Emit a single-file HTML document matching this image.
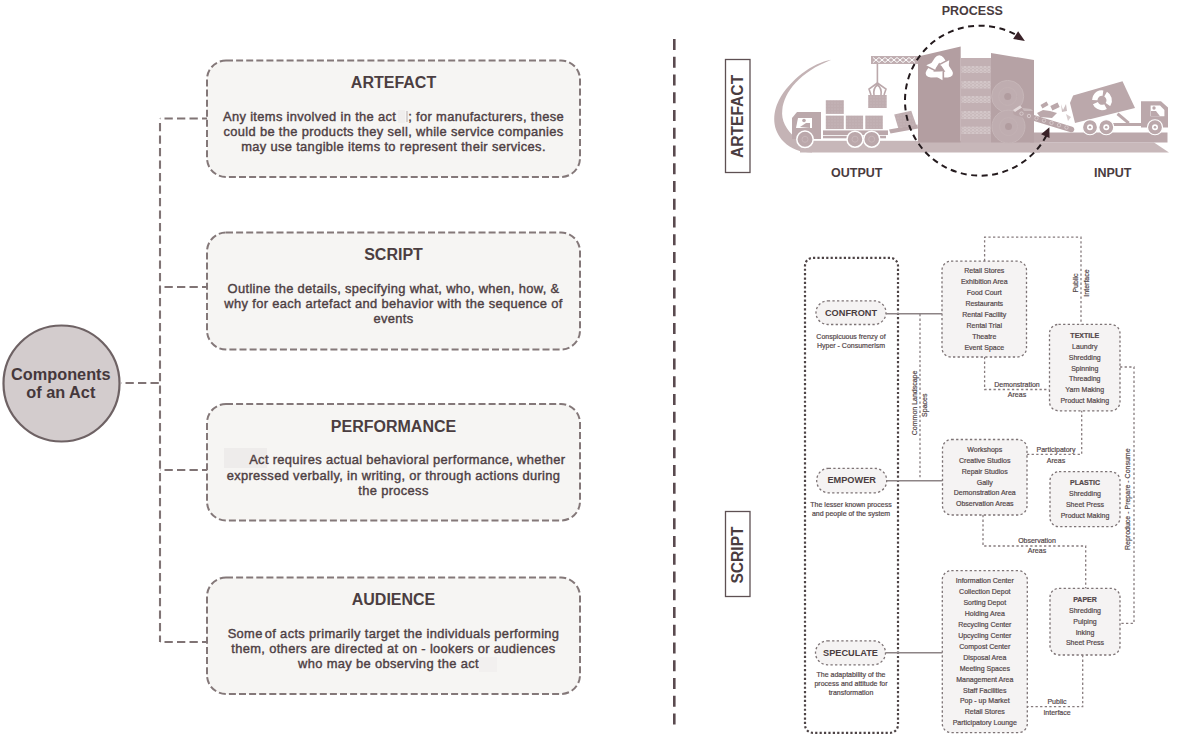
<!DOCTYPE html>
<html><head><meta charset="utf-8">
<style>
html,body{margin:0;padding:0;background:#fff;}
body{width:1200px;height:741px;position:relative;overflow:hidden;font-family:"Liberation Sans",sans-serif;color:#4a3d40;}
svg.layer{position:absolute;left:0;top:0;}
.ttl{position:absolute;left:207px;width:373px;text-align:center;font-weight:bold;font-size:16px;line-height:18px;color:#4b3e41;}
.body{position:absolute;left:207px;width:373px;text-align:center;font-size:12.9px;letter-spacing:0.34px;line-height:15.4px;color:#4e4043;-webkit-text-stroke:0.4px #4e4043;}
.circ{position:absolute;left:-0.7px;width:123px;text-align:center;font-weight:bold;font-size:16.3px;line-height:18.2px;color:#45383b;}
.lbl{position:absolute;font-weight:bold;font-size:12.5px;line-height:14px;color:#4a3c3f;white-space:nowrap;}
.vlab{position:absolute;font-weight:bold;font-size:15.6px;line-height:16px;color:#4a3c3f;white-space:nowrap;transform:rotate(-90deg);transform-origin:center center;}
.list{position:absolute;text-align:center;font-size:7px;line-height:10.92px;color:#54474a;white-space:nowrap;-webkit-text-stroke:0.2px #54474a;}
.pill{position:absolute;text-align:center;font-weight:bold;font-size:9.2px;line-height:11px;color:#4a3d40;white-space:nowrap;}
.desc{position:absolute;text-align:center;font-size:7px;line-height:8.8px;color:#54474a;white-space:nowrap;-webkit-text-stroke:0.2px #54474a;}
.rot{position:absolute;text-align:center;font-size:7px;line-height:10px;color:#54474a;white-space:nowrap;-webkit-text-stroke:0.2px #54474a;transform:rotate(-90deg);transform-origin:center center;}
</style></head>
<body>
<svg class="layer" width="1200" height="741" viewBox="0 0 1200 741">
  <!-- LEFT -->
  <g fill="#f6f5f3" stroke="#847879" stroke-width="2" stroke-dasharray="7 3.1">
    <rect x="207" y="60.5" width="373" height="116.5" rx="19"/>
    <rect x="207" y="232.5" width="373" height="117" rx="19"/>
    <rect x="207" y="404" width="373" height="116.5" rx="19"/>
    <rect x="207" y="577.5" width="373" height="116.5" rx="19"/>
  </g>
  <g fill="none" stroke="#807475" stroke-width="2.1" stroke-dasharray="8.3 4.2" stroke-dashoffset="-4.5">
    <path d="M160 118.5 V642"/>
    <path d="M160 118.5 H207 M160 287 H207 M160 470 H207 M160 642 H207 M121 383 H160"/>
  </g>
  <circle cx="61.5" cy="383.5" r="58" fill="#d3cccd" stroke="#6e6264" stroke-width="2.2"/>

  <!-- divider -->
  <path d="M674.3 39 V725" stroke="#5a4a4f" stroke-width="2.6" stroke-dasharray="11 6.75" fill="none"/>
  <!-- vertical label boxes -->
  <rect x="725.5" y="59.5" width="24.5" height="113" fill="none" stroke="#5e5053" stroke-width="1.3"/>
  <rect x="725.5" y="511.5" width="24.5" height="85" fill="none" stroke="#5e5053" stroke-width="1.3"/>

  <!-- ARTEFACT ILLUSTRATION -->
  <g id="illu">
    <!-- swoosh -->
    <path d="M831.4 59.8 C812 63 790 80 779 100 C772 114 772 130 784 142 C791 149 800 152.4 812 152.4 L812 140.5 L796 138 C786 130 781 120 782.3 110 C784 92 800 72 831.4 59.8 Z" fill="#c4b3b5"/>
    <!-- platform left part -->
    <rect x="800" y="140.8" width="240" height="11.7" fill="#c7b7b9"/>
    <!-- lower band right -->
    <path d="M1030 142.5 H1154 L1169 152.5 H1030 Z" fill="#c8b8ba"/>
    <!-- upper road right -->
    <rect x="1030" y="132.5" width="137.5" height="10" fill="#bba8ab"/>
    <!-- flatbed truck -->
    <path d="M792 118 L797 112 H821 V139 H792 Z" fill="#bba8ab"/>
    <path d="M798 118 H812 V128 H796 Z" fill="#fff"/>
    <circle cx="804" cy="120.5" r="1.8" fill="#bba8ab"/>
    <path d="M800 127 L806 123 H810 V128 Z" fill="#bba8ab"/>
    <rect x="823" y="130.4" width="65" height="4.6" fill="#bba8ab"/>
    <rect x="823" y="135.8" width="63" height="2.5" fill="#bba8ab"/>
    <g fill="#bba8ab" stroke="#fff" stroke-width="1.5">
      <circle cx="805" cy="139.3" r="8.2"/>
      <circle cx="855" cy="139.2" r="8"/>
      <circle cx="871.7" cy="139.2" r="8"/>
    </g>
    <g fill="none" stroke="#c9b9bb" stroke-width="0.8"><circle cx="805" cy="139.3" r="3"/><circle cx="855" cy="139.2" r="3"/><circle cx="871.7" cy="139.2" r="3"/></g>
    <g fill="url(#tex)">
      <rect x="825.8" y="100.2" width="18" height="13.7"/>
      <rect x="825.8" y="115.6" width="18" height="13.5"/>
      <rect x="845.8" y="115.6" width="17.3" height="13.5"/>
      <rect x="865.3" y="115.6" width="17.5" height="13.5"/>
      <rect x="868.2" y="95" width="18.5" height="13"/>
    </g>
    <!-- crane -->
    <rect x="871" y="56" width="47" height="8" fill="#c0aeb1"/>
    <path d="M873 57.5 L879 62.5 L885 57.5 L891 62.5 L897 57.5 L903 62.5 L909 57.5 L915 62.5 M873 62.5 L879 57.5 L885 62.5 L891 57.5 L897 62.5 L903 57.5 L909 62.5 L915 57.5" stroke="#fff" stroke-width="1" fill="none"/>
    <rect x="876.6" y="64" width="1.6" height="20" fill="#bba8ab"/>
    <path d="M877.4 83 L869 89 L871 95 M877.4 83 L886 89 L884 95 M874 95 Q873 88 877.4 85 Q882 88 881 95" stroke="#bba8ab" stroke-width="1.6" fill="none"/>
    <!-- tilted box + arm -->
    <path d="M894.2 114.6 L911.25 110.8 L916.25 125 L898.3 128.3 Z" fill="url(#tex)"/>
    <path d="M889 129.5 L917.5 124.5 L918 128.5 L890.5 133.5 Z" fill="#bba8ab"/>
    <!-- building -->
    <path d="M918 56.5 L960.7 46.5 V142.5 H918 Z" fill="#b39ea1"/>
    <rect x="960.7" y="58" width="30.3" height="84.5" fill="#c2b0b3"/>
    <defs>
      <pattern id="spk" width="4" height="3" patternUnits="userSpaceOnUse">
        <rect width="4" height="3" fill="#c9babc"/>
        <circle cx="1" cy="1" r="0.7" fill="#e6dcdd"/>
        <circle cx="3" cy="2.2" r="0.6" fill="#ddd2d3"/>
      </pattern>
      <pattern id="tex" width="3" height="3" patternUnits="userSpaceOnUse">
        <rect width="3" height="3" fill="#bfadb0"/>
        <circle cx="1" cy="1" r="0.5" fill="#cfc1c3"/>
      </pattern>
    </defs>
    <g fill="url(#spk)">
      <rect x="961.5" y="66" width="29" height="7"/>
      <rect x="961.5" y="81" width="29" height="7.5"/>
      <rect x="961.5" y="96" width="29" height="7"/>
      <rect x="961.5" y="111" width="29" height="8"/>
      <rect x="961.5" y="126.6" width="29" height="7.4"/>
    </g>
    <path d="M991 53 L1034 60 V142.5 H991 Z" fill="#b6a2a5"/>
    <g fill="#bfadb0" stroke="#c6b6b8" stroke-width="1">
      <circle cx="1007.7" cy="96.4" r="16"/>
      <circle cx="1008.5" cy="126.6" r="16.5"/>
    </g>
    <g fill="none" stroke="#c4b4b6" stroke-width="0.6"><circle cx="1007.7" cy="96.4" r="9"/><circle cx="1008.5" cy="126.6" r="9"/></g>
    <g fill="#b19c9f"><circle cx="1007.7" cy="96.4" r="3.5"/><circle cx="1008.5" cy="126.6" r="3.5"/></g>
    <!-- recycle symbol on building -->
    <defs><g id="rcp">
      <path d="M-5.2 -1.2 L-1.2 -8.2 Q0 -10.2 1.2 -8.2 L2.6 -5.8" fill="none" stroke="#fff" stroke-width="5" stroke-linejoin="round"/>
      <path d="M0.6 -3.2 L7.6 -7.2 L7.0 1.0 Z" fill="#fff"/>
    </g></defs>
    <g transform="translate(939.3 68.6) scale(1.3 1.15)"><use href="#rcp"/><use href="#rcp" transform="rotate(120)"/><use href="#rcp" transform="rotate(240)"/></g>
    <!-- conveyor into building -->
    <path d="M1016 112.5 L1071.5 129.5" stroke="#b8a4a7" stroke-width="5.5" stroke-linecap="round"/>
    <g fill="none" stroke="#dcd1d2" stroke-width="0.8">
      <circle cx="1021.5" cy="113.6" r="1.7"/><circle cx="1029" cy="116" r="1.7"/><circle cx="1036.5" cy="118.3" r="1.7"/><circle cx="1044" cy="120.6" r="1.7"/><circle cx="1051.5" cy="122.9" r="1.7"/><circle cx="1059" cy="125.2" r="1.7"/><circle cx="1066.5" cy="127.5" r="1.7"/>
    </g>
    <path d="M1013 110 L1020 105.5 L1022 107.5 L1015 112 Z" fill="#e4dadb"/>
    <path d="M1022 108 L1031 109 L1033 111 L1024 111 Z" fill="#c9babc"/>
    <g fill="#bba8ab">
      <rect x="1041" y="103" width="7" height="4" transform="rotate(-30 1044.5 105)"/>
      <rect x="1051" y="104" width="8" height="5" transform="rotate(-25 1055 106.5)"/>
      <path d="M1037 113 L1043 110 L1050 111 L1057 113 L1052 118 L1040 117 Z"/>
      <path d="M1061 104 L1063 110 L1066 104 L1067 111 L1062 112 Z" fill="#cdbfc1"/>
      <path d="M1066 114 L1071 117 L1068 121 Z" fill="#d8cdce"/>
    </g>
    <!-- dump truck -->
    <path d="M1070 103.1 L1073.1 95.6 L1122.5 81.25 L1135 108.1 L1075 123.1 Z" fill="#bba8ab"/>
    <path d="M1117.5 113.75 L1128.75 123.1" stroke="#bba8ab" stroke-width="3"/>
    <rect x="1112" y="123" width="29" height="3" fill="#bba8ab"/>
    <path d="M1141 101.25 H1161 L1168 107.5 V127.5 H1141 Z" fill="#bba8ab"/>
    <path d="M1150.6 105.6 H1160 L1164.4 110 V116.25 H1150.6 Z" fill="#fff"/>
    <circle cx="1154" cy="108" r="1.7" fill="#bba8ab"/>
    <path d="M1151 116.25 V111 H1156 L1160 116.25 Z" fill="#bba8ab"/>
    <g fill="#bba8ab" stroke="#fff" stroke-width="1.2">
      <circle cx="1090" cy="127.25" r="7.5"/><circle cx="1106.25" cy="127.25" r="7.5"/><circle cx="1155" cy="127.25" r="7.5"/>
    </g>
    <g fill="#fff"><circle cx="1090" cy="127.25" r="3"/><circle cx="1106.25" cy="127.25" r="3"/><circle cx="1155" cy="127.25" r="3"/></g>
    <g fill="#bba8ab"><circle cx="1090" cy="127.25" r="1.3"/><circle cx="1106.25" cy="127.25" r="1.3"/><circle cx="1155" cy="127.25" r="1.3"/></g>
    <circle cx="1102" cy="100.3" r="7.2" fill="none" stroke="#fff" stroke-width="5.4" stroke-dasharray="12 3.08" transform="rotate(-60 1102 100.3)"/>
    <!-- process dashed circle -->
    <path d="M1046.3 135.7 A75 75 0 1 1 1016.8 35.3" fill="none" stroke="#241a1d" stroke-width="2" stroke-dasharray="6 4.5"/>
    <path d="M1024.9 41.1 L1013.1 39.0 L1018.1 31.3 Z" fill="#3a2228"/>
    <path d="M1049.4 127.3 L1049.5 138.1 L1041.1 134.2 Z" fill="#3a2228"/>
  </g>

  <!-- SCRIPT DIAGRAM -->
  <rect x="805" y="257.8" width="93" height="475" rx="8" fill="none" stroke="#4d4345" stroke-width="2.2" stroke-dasharray="2.2 2.2"/>
  <g fill="#f5f3f3" stroke="#7d7375" stroke-width="1.3" stroke-dasharray="2.3 2.3">
    <rect x="816" y="300.8" width="70" height="23.7" rx="11.8"/>
    <rect x="816.7" y="468.3" width="70" height="24.5" rx="12"/>
    <rect x="815.5" y="640.8" width="70" height="24" rx="12"/>
    <rect x="942" y="261.2" width="84.5" height="95.8" rx="9"/>
    <rect x="942.5" y="439.5" width="84.5" height="75.5" rx="9"/>
    <rect x="942.3" y="570.7" width="85" height="162" rx="9"/>
    <rect x="1049.5" y="324.4" width="70.5" height="86.4" rx="9"/>
    <rect x="1050" y="471.7" width="70" height="55" rx="9"/>
    <rect x="1050" y="588.3" width="70" height="66.7" rx="9"/>
  </g>
  <g fill="none" stroke="#8d8486" stroke-width="1.5">
    <path d="M886 313.8 H942 M886.7 480.8 H942.5 M885.5 652.8 H942.3"/>
  </g>
  <g fill="none" stroke="#867b7d" stroke-width="1.3" stroke-dasharray="2.3 2.3">
    <path d="M920 314 V478"/>
    <path d="M984.6 261 V237.2 H1081 V324.4"/>
    <path d="M984.6 357 V389.5 H1049.5"/>
    <path d="M1027 454.3 H1081.7 V410.8"/>
    <path d="M983 515 V546 H1085.7 V588.3"/>
    <path d="M1120 367 H1134 V623.3 H1120"/>
    <path d="M1082.7 655 V706.7 H1027.3"/>
  </g>
</svg>
<div class="circ" style="top:364.5px">Components<br>of an Act</div>
<div class="ttl" style="top:74px">ARTEFACT</div>
<div class="body" style="top:108.6px">Any items involved in the act<span style="display:inline-block;width:7px;height:13px;background:#f0eeed;margin-left:2px;vertical-align:-2px"></span><span style="display:inline-block;width:2px;height:11px;background:#d6d1d1;vertical-align:-1px;margin-left:1px"></span>; for manufacturers, these<br>could be the products they sell, while service companies<br>may use tangible items to represent their services.</div>
<div class="ttl" style="top:246px">SCRIPT</div>
<div class="body" style="top:280.6px">Outline the details, specifying what, who, when, how, &amp;<br>why for each artefact and behavior with the sequence of<br>events</div>
<div style="position:absolute;left:224px;top:448px;width:43px;height:20px;background:#eeeceb"></div>
<div class="ttl" style="top:417.5px">PERFORMANCE</div>
<div class="body" style="top:452.1px">&nbsp; &nbsp; &nbsp; &nbsp;Act requires actual behavioral performance, whether<br>expressed verbally, in writing, or through actions during<br>the process</div>
<div class="ttl" style="top:591px">AUDIENCE</div>
<div class="body" style="top:625.6px">Some<span style="letter-spacing:-1.5px"> </span>of acts primarily target the individuals performing<br>them, others are directed at on - lookers or audiences<br>who may be observing the act<span style="display:inline-block;width:10px;height:1px"></span></div>
<div style="position:absolute;left:479px;top:657px;width:18px;height:15px;background:#f2f0ef"></div>

<div class="lbl" style="left:941.7px;top:4px">PROCESS</div>
<div class="lbl" style="left:831px;top:166px">OUTPUT</div>
<div class="lbl" style="left:1094px;top:166px">INPUT</div>
<div class="vlab" style="left:697.7px;top:109.5px;width:80px;text-align:center">ARTEFACT</div>
<div class="vlab" style="left:697.7px;top:546.5px;width:80px;text-align:center">SCRIPT</div>

<div class="pill" style="left:816px;top:307.8px;width:70px">CONFRONT</div>
<div class="pill" style="left:816.7px;top:475.3px;width:70px">EMPOWER</div>
<div class="pill" style="left:815.5px;top:647.6px;width:70px">SPECULATE</div>
<div class="desc" style="left:801px;top:333px;width:100px">Conspicuous frenzy of<br>Hyper - Consumerism</div>
<div class="desc" style="left:801px;top:501px;width:100px">The lesser known process<br>and people of the system</div>
<div class="desc" style="left:801px;top:671px;width:100px">The adaptability of the<br>process and attitude for<br>transformation</div>

<div class="list" style="left:942px;top:266.3px;width:84.5px">Retail Stores<br>Exhibition Area<br>Food Court<br>Restaurants<br>Rental Facility<br>Rental Trial<br>Theatre<br>Event Space</div>
<div class="list" style="left:942.5px;top:444.8px;width:84.5px">Workshops<br>Creative Studios<br>Repair Studios<br>Gally<br>Demonstration Area<br>Observation Areas</div>
<div class="list" style="left:942.3px;top:576.3px;width:85px">Information Center<br>Collection Depot<br>Sorting Depot<br>Holding Area<br>Recycling Center<br>Upcycling Center<br>Compost Center<br>Disposal Area<br>Meeting Spaces<br>Management Area<br>Staff Facilities<br>Pop - up Market<br>Retail Stores<br>Participatory Lounge</div>
<div class="list" style="left:1049.5px;top:330.8px;width:70.5px"><b>TEXTILE</b><br>Laundry<br>Shredding<br>Spinning<br>Threading<br>Yarn Making<br>Product Making</div>
<div class="list" style="left:1050px;top:478.1px;width:70px"><b>PLASTIC</b><br>Shredding<br>Sheet Press<br>Product Making</div>
<div class="list" style="left:1050px;top:594.8px;width:70px"><b>PAPER</b><br>Shredding<br>Pulping<br>Inking<br>Sheet Press</div>

<div class="desc" style="left:987px;top:379.5px;width:60px;line-height:10.6px">Demonstration<br>Areas</div>
<div class="desc" style="left:1026px;top:444px;width:60px;line-height:11px">Participatory<br>Areas</div>
<div class="desc" style="left:1007px;top:535.5px;width:60px;line-height:10.5px">Observation<br>Areas</div>
<div class="desc" style="left:1027px;top:696px;width:60px;line-height:11.3px">Public<br>Interface</div>
<div class="rot" style="left:1050.5px;top:271.5px;width:60px;line-height:11px">Public<br>Interface</div>
<div class="rot" style="left:889.5px;top:394.5px;width:60px;line-height:10.2px">Common Landscape<br>Spaces</div>
<div class="rot" style="left:1078px;top:495px;width:100px;line-height:10px">Reproduce - Prepare - Consume</div>
</body></html>
